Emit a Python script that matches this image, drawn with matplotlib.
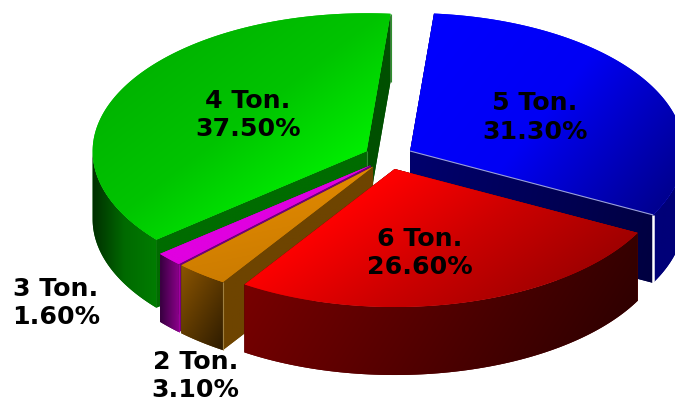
import numpy as np
import matplotlib
matplotlib.use("Agg")
import matplotlib.pyplot as plt
from matplotlib.patches import Polygon
from matplotlib.colors import LinearSegmentedColormap

categories = ["5 Ton.", "6 Ton.", "2 Ton.", "3 Ton.", "4 Ton."]
shares = [31.3, 26.6, 3.1, 1.6, 37.5]

START = 5.0
CX, CY, RX, RY = 388.5, 157.0, 274.0, 138.0
DEPTH = 68.0
EXPLODE = 0.09
DRAW_ORDER = ["4 Ton.", "5 Ton.", "3 Ton.", "2 Ton.", "6 Ton."]

STYLE = {
    "5 Ton.": dict(top=["#0000ff", "#0000f4", "#000090"], top_dir=(1, 0.8),
                   wall=["#000078", "#000078"], wall_dir=(1, 0),
                   end=["#00006e", "#000040"], end_dir=(1, 0.25),
                   start=["#000060", "#000060"]),
    "6 Ton.": dict(top=["#ff0000", "#cc0000", "#a00000"], top_dir=(1, 1.4),
                   wall=["#780000", "#300000"], wall_dir=(1, 0.6),
                   end=["#600000", "#600000"], end_dir=(1, 0),
                   start=["#600000", "#600000"]),
    "2 Ton.": dict(top=["#e08800", "#cc7c00"], top_dir=(0.2, 1),
                   wall=["#8a5400", "#2e1c00"], wall_dir=(1, 0.6),
                   end=["#6e4400", "#6e4400"], end_dir=(1, 0),
                   start=["#6e4400", "#6e4400"]),
    "3 Ton.": dict(top=["#e000e0", "#e000e0"], top_dir=(1, 0),
                   wall=["#380040", "#880088"], wall_dir=(1, 0),
                   end=["#70007a", "#70007a"], end_dir=(1, 0),
                   start=["#70007a", "#70007a"]),
    "4 Ton.": dict(top=["#00b400", "#00c400", "#00ee00"], top_dir=(1, 1.3),
                   wall=["#003000", "#006a00", "#007c00"], wall_dir=(1, 0),
                   end=["#005000", "#005000"], end_dir=(1, 0),
                   start=["#006c00", "#006c00"]),
}

LABELS = {
    "4 Ton.": (248, 115),
    "5 Ton.": (535, 117.5),
    "6 Ton.": (420, 253),
    "3 Ton.": (56, 303),
    "2 Ton.": (195.5, 376),
}

fig = plt.figure(figsize=(6.75, 4.03), dpi=100, facecolor="white")
ax = fig.add_axes([0, 0, 1, 1])
ax.set_xlim(0, 675)
ax.set_ylim(403, 0)
ax.axis("off")

order_z = [1.0]


def gradient_face(pts, colors, direction):
    pts = np.asarray(pts)
    z = order_z[0]
    order_z[0] += 1
    cmap = LinearSegmentedColormap.from_list("g", colors)
    mean = cmap(0.5)
    poly = Polygon(pts, closed=True, facecolor=mean, edgecolor="none", zorder=z)
    ax.add_patch(poly)
    x0, y0 = np.floor(pts.min(axis=0))
    x1, y1 = np.ceil(pts.max(axis=0))
    if x1 - x0 < 1 or y1 - y0 < 1:
        return
    xs = np.linspace(x0, x1, int(x1 - x0) + 1)
    ys = np.linspace(y0, y1, int(y1 - y0) + 1)
    gx, gy = np.meshgrid(xs, ys)
    proj = gx * direction[0] + gy * direction[1]
    rng = (pts[:, 0] * direction[0] + pts[:, 1] * direction[1])
    t = (proj - rng.min()) / max(rng.max() - rng.min(), 1e-6)
    im = ax.imshow(np.clip(t, 0, 1), cmap=cmap, vmin=0, vmax=1,
                   extent=(x0, x1, y1, y0), aspect="auto",
                   interpolation="bilinear", zorder=z + 0.5)
    im.set_clip_path(poly)


def edge(p, q, color, lw, z_extra=0.0):
    ax.plot([p[0], q[0]], [p[1], q[1]], color=color, lw=lw,
            zorder=order_z[0] + z_extra, solid_capstyle="butt")


total = sum(shares)
angle = START
spans = {}
for name, value in zip(categories, shares):
    sweep = value / total * 360.0
    spans[name] = (angle, angle + sweep)
    angle += sweep


def rim(ax_, ay_, th):
    r = np.radians(th)
    return np.column_stack([ax_ + RX * np.sin(r), ay_ - RY * np.cos(r)])


for name in DRAW_ORDER:
    a, b = spans[name]
    st = STYLE[name]
    mid = np.radians((a + b) / 2)
    apx = CX + EXPLODE * RX * np.sin(mid)
    apy = CY - EXPLODE * RY * np.cos(mid)
    apex = np.array([apx, apy])
    down = np.array([0, DEPTH])

    ps = rim(apx, apy, np.array([a]))[0]
    pe = rim(apx, apy, np.array([b]))[0]

    # cut faces
    gradient_face([apex, ps, ps + down, apex + down], st["start"], (1, 0))
    gradient_face([apex, pe, pe + down, apex + down], st["end"], st["end_dir"])

    # outer wall (only the part facing the viewer)
    lo, hi = max(a, 90.0), min(b, 270.0)
    if hi > lo:
        th = np.linspace(lo, hi, 80)
        upper = rim(apx, apy, th)
        lower = upper + down
        gradient_face(np.vstack([upper, lower[::-1]]), st["wall"], st["wall_dir"])

    # top face
    th = np.linspace(a, b, 200)
    top = np.vstack([[apex], rim(apx, apy, th)])
    gradient_face(top, st["top"], st["top_dir"])

    if name == "5 Ton.":
        edge(apex, pe, "#9aa0d8", 0.8)
        edge(pe, pe + down, "white", 1.8, 0.1)
    elif name == "4 Ton.":
        edge(pe, pe + down, "#2f8f2f", 0.8)
        edge(apex, apex + down * 0.25, "#2f8f2f", 0.8)
    elif name == "2 Ton.":
        edge(ps, ps + down, "#a08040", 0.8)
    elif name == "3 Ton.":
        edge(ps, ps + down, "#a000a0", 0.8)
    order_z[0] += 1

for name, value in zip(categories, shares):
    x, y = LABELS[name]
    ax.text(x, y, f"{name}\n{value:.2f}%", ha="center", va="center",
            fontsize=18.2, fontweight="bold", family="DejaVu Sans",
            color="black", linespacing=1.26, zorder=order_z[0] + 5)

ax.set_xlim(0, 675)
ax.set_ylim(403, 0)
fig.savefig("out.png", dpi=100, facecolor="white")
